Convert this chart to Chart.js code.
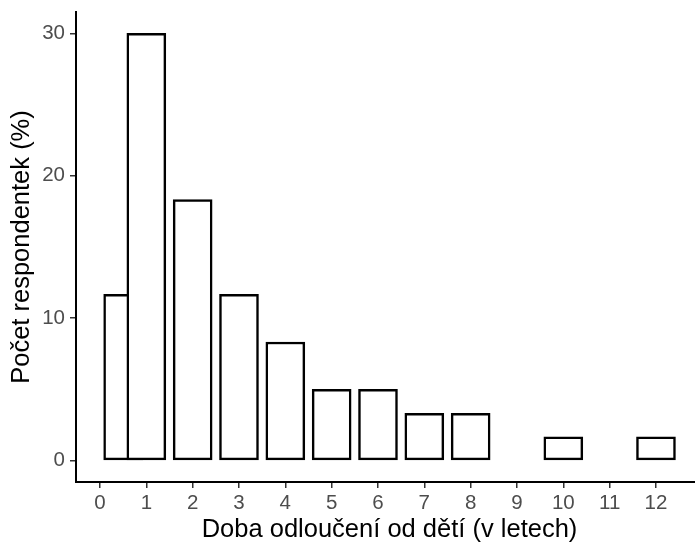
<!DOCTYPE html>
<html lang="cs">
<head>
<meta charset="utf-8">
<title>Doba odloučení od dětí</title>
<script src="https://cdn.jsdelivr.net/npm/chart.js@4.4.1/dist/chart.umd.min.js"></script>
<style>
  html, body { margin: 0; padding: 0; background: #fff; overflow: hidden; }
  .c-wrap { width: 695px; height: 548px; overflow: hidden; }
</style>
</head>
<body>
<div class="c-wrap">
  <canvas id="js-chart" width="710" height="548"></canvas>
</div>
<script>
// data (podíl respondentek v %)
const years = [0.5, 1, 2, 3, 4, 5, 6, 7, 8, 10, 12];
const percent = [11.67, 30, 18.33, 11.67, 8.33, 5, 5, 3.33, 3.33, 1.67, 1.67];
const xTicks = [0, 1, 2, 3, 4, 5, 6, 7, 8, 9, 10, 11, 12];
const yTicks = [0, 10, 20, 30];

const FONT = "'Liberation Sans', Arial, sans-serif";
const TICK_COLOR = "#4D4D4D";

const drawChart = () => {
  const points = years.map((x, i) => ({ x: x, y: percent[i] }));

  const ctx = document.getElementById("js-chart");
  new Chart(ctx, {
    type: "bar",
    data: {
      datasets: [
        {
          data: points,
          backgroundColor: "#ffffff",
          borderColor: "#000000",
          borderWidth: 2.5,
          borderSkipped: false,
          barThickness: 39,
        },
      ],
    },
    options: {
      responsive: false,
      animation: false,
      devicePixelRatio: 1,
      layout: { padding: { top: 12, right: 7, left: 0, bottom: 0 } },
      plugins: {
        legend: { display: false },
        tooltip: { enabled: false },
      },
      scales: {
        x: {
          type: "linear",
          offset: false,
          min: -0.518,
          max: 13.015,
          afterBuildTicks: (s) => {
            s.ticks = xTicks.map((v) => ({ value: v }));
          },
          afterFit: (s) => {
            s.height = 66;
          },
          ticks: {
            color: TICK_COLOR,
            font: { family: FONT, size: 20.5 },
            padding: 3,
            autoSkip: false,
            maxRotation: 0,
          },
          grid: {
            display: true,
            offset: false,
            drawOnChartArea: false,
            drawTicks: true,
            tickLength: 6,
            color: "#333333",
            lineWidth: 1.5,
          },
          border: { display: true, color: "#000000", width: 2 },
          title: {
            display: true,
            text: "Doba odloučení od dětí (v letech)",
            color: "#000000",
            font: { family: FONT, size: 25.5 },
            padding: { top: 0, bottom: 3 },
          },
        },
        y: {
          type: "linear",
          min: -1.5,
          max: 31.5,
          afterBuildTicks: (s) => {
            s.ticks = yTicks.map((v) => ({ value: v }));
          },
          afterFit: (s) => {
            // osa y nepotrebuje misto pro popisky nahore a dole
            s.width = 76;
            s.paddingTop = 0;
            s.paddingBottom = 0;
          },
          ticks: {
            color: TICK_COLOR,
            font: { family: FONT, size: 20.5 },
            padding: 5,
          },
          grid: {
            display: true,
            drawOnChartArea: false,
            drawTicks: true,
            tickLength: 6,
            color: "#333333",
            lineWidth: 1.5,
          },
          border: { display: true, color: "#000000", width: 2 },
          title: {
            display: true,
            text: "Počet respondentek (%)",
            color: "#000000",
            font: { family: FONT, size: 25.5 },
            padding: { top: 7, bottom: 0 },
          },
        },
      },
    },
  });
};

document.addEventListener("DOMContentLoaded", function () {
  drawChart();
});
</script>
</body>
</html>
